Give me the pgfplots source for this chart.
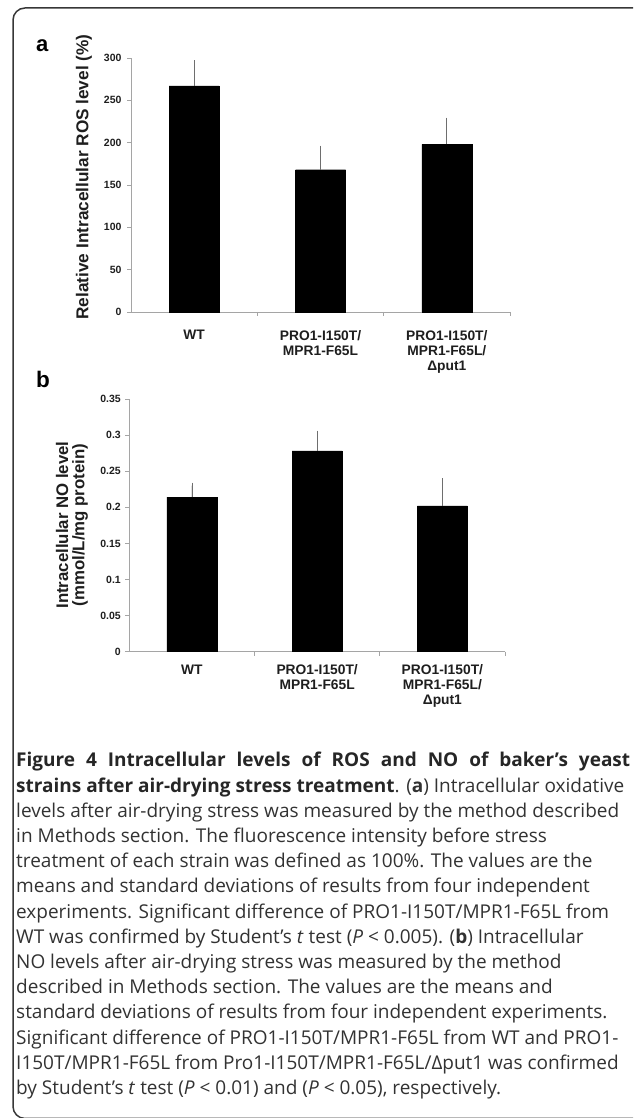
\documentclass[border=0pt]{standalone}
\usepackage{fontspec}
\usepackage{pgfplots}
\pgfplotsset{compat=1.18}
\setmainfont{Liberation Sans}
\newfontfamily\capfont{Open Sans}
\definecolor{axgray}{RGB}{165,165,165}
\definecolor{errgray}{RGB}{110,110,110}
\definecolor{txt}{RGB}{30,30,30}
\definecolor{captxt}{RGB}{50,50,50}
\definecolor{framecol}{RGB}{55,55,55}
\newcommand\fs[1]{\fontsize{#1}{#1}\selectfont}

\pgfplotsset{
  barstyle/.style={
    scale only axis,
    anchor=south west,
    axis x line=bottom, axis y line=left,
    axis line style={-, draw=axgray, line width=0.8pt},
    xmin=0.5, xmax=3.5, xtick={1,2,3},
    xtick style={draw=none},
    ytick style={draw=axgray, line width=0.8pt},
    tick align=outside, major tick length=4pt,
    ymin=0,
    ybar, bar width=50pt,
    scaled y ticks=false,
    tick label style={text=txt},
    xticklabel style={align=center, font=\bfseries\fontsize{13.8}{15}\selectfont},
    /pgf/number format/assume math mode=true,
    clip=false,
  },
  barplot/.style={
    fill=black, draw=black,
    error bars/.cd, y dir=plus, y explicit,
    error bar style={draw=errgray, line width=0.8pt},
    error mark options={draw=errgray, line width=0.8pt, mark size=3pt},
  },
}

\begin{document}
\begin{tikzpicture}[x=1pt,y=1pt]
\path[use as bounding box] (0,0) rectangle (633,1118);
\clip (0,0) rectangle (633,1118);
\draw[framecol, line width=1.5pt, rounded corners=12pt] (13,-0.5) rectangle (720,1110);

% ---------- panel a ----------
\begin{axis}[barstyle, at={(131pt,806pt)}, width=379pt, height=254pt,
  ymax=300, ytick={0,50,100,150,200,250,300},
  yticklabel style={font=\bfseries\fs{10.5}, xshift=-2pt},
  xticklabels={{WT},{PRO1-I150T/\\MPR1-F65L},{PRO1-I150T/\\MPR1-F65L/\\Δput1}},
  xticklabel style={yshift=-10.5pt}]
\addplot[barplot] coordinates {(1,267) +- (0,27) (2,168) +- (0,25) (3,198) +- (0,28)};
\pgfplotsinvokeforeach{1.5,2.5,3.5}{\draw[axgray, line width=0.8pt] (axis cs:#1,0) -- ([yshift=-4pt]axis cs:#1,0);}
\end{axis}

% ---------- panel b ----------
\begin{axis}[barstyle, at={(129.3pt,466.3pt)}, width=375.7pt, height=252.7pt,
  ymax=0.35, ytick={0,0.05,0.1,0.15,0.2,0.25,0.3,0.35},
  yticklabels={0,0.05,0.1,0.15,0.2,0.25,0.3,0.35},
  yticklabel style={font=\bfseries\fs{10.5}, xshift=-1pt},
  xticklabels={{WT},{PRO1-I150T/\\MPR1-F65L},{PRO1-I150T/\\MPR1-F65L/\\Δput1}},
  xticklabel style={yshift=-5.5pt}]
\addplot[barplot] coordinates {(1,0.214) +- (0,0.016) (2,0.278) +- (0,0.024) (3,0.202) +- (0,0.034)};
\pgfplotsinvokeforeach{1.5,2.5,3.5}{\draw[axgray, line width=0.8pt] (axis cs:#1,0) -- ([yshift=-4pt]axis cs:#1,0);}
\end{axis}

% axis titles and panel letters
\node[rotate=90, font=\bfseries\fs{17.2}, text=txt] at (84,941) {Relative Intracellular ROS level (\%)};
\node[rotate=90, align=center, font=\bfseries\fontsize{16.8}{16.3}\selectfont, text=txt] at (72,593) {Intracellular NO level\\(mmol/L/mg protein)};
\node[anchor=base west, inner sep=0pt, font=\bfseries\fs{22}, text=black] at (36,1066) {a};
\node[anchor=base west, inner sep=0pt, font=\bfseries\fs{22.5}, text=black] at (36,730) {b};

% caption
\begin{scope}[every node/.style={anchor=base west, inner sep=0pt, text=captxt, font=\capfont\fs{19}}]
\node[text=black!85] at (16,351.0) {\hbox to 614pt{\textbf{Figure 4 Intracellular levels of ROS and NO of baker’s yeast}}};
\node at (16,325.8) {\textbf{\color{black!85}strains after air-drying stress treatment}. (\textbf{a}) Intracellular oxidative};
\node at (16,300.6) {levels after air-drying stress was measured by the method described};
\node at (16,275.4) {in Methods section. The fluorescence intensity before stress};
\node at (16,250.2) {treatment of each strain was defined as 100\%. The values are the};
\node at (16,225.0) {means and standard deviations of results from four independent};
\node at (16,199.8) {experiments. Significant difference of PRO1-I150T/MPR1-F65L from};
\node at (16,174.6) {WT was confirmed by Student’s \textit{t} test (\textit{P} < 0.005). (\textbf{b}) Intracellular};
\node at (16,149.4) {NO levels after air-drying stress was measured by the method};
\node at (16,124.2) {described in Methods section. The values are the means and};
\node at (16,99.0) {standard deviations of results from four independent experiments.};
\node at (16,73.8) {Significant difference of PRO1-I150T/MPR1-F65L from WT and PRO1-};
\node at (16,48.6) {I150T/MPR1-F65L from Pro1-I150T/MPR1-F65L/Δput1 was confirmed};
\node at (16,23.4) {by Student’s \textit{t} test (\textit{P} < 0.01) and (\textit{P} < 0.05), respectively.};
\end{scope}
\end{tikzpicture}
\end{document}
